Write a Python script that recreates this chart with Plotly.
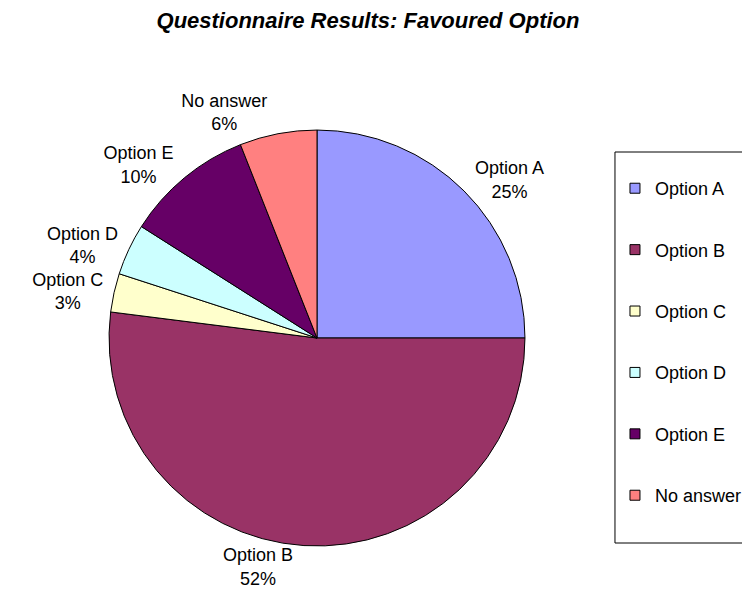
import plotly.graph_objects as go

labels = ["Option A", "Option B", "Option C", "Option D", "Option E", "No answer"]
values = [25, 52, 3, 4, 10, 6]
colors = ["#9999FF", "#993366", "#FFFFCC", "#CCFFFF", "#660066", "#FF8080"]

FONT = "Liberation Sans, Arial, sans-serif"

fig = go.Figure()
fig.add_trace(go.Pie(
    labels=labels, values=values, sort=False, direction="clockwise", rotation=0,
    marker=dict(colors=colors, line=dict(color="black", width=1)),
    textposition="outside", texttemplate="%{label}<br>%{percent:.0%}",
    textfont=dict(family=FONT, size=18, color="black"),
    domain=dict(x=[0.1347, 0.6893], y=[0.1018, 0.7963]),
    showlegend=False, hoverinfo="label+percent",
))

for i, (lab, col) in enumerate(zip(labels, colors)):
    fig.add_trace(go.Scatter(
        x=[None], y=[None], mode="markers", name=lab, legendgroup=f"g{i}",
        marker=dict(symbol="square", size=10, color=col, line=dict(color="black", width=1)),
    ))

fig.update_layout(
    width=750, height=599,
    margin=dict(l=0, r=0, t=0, b=0),
    paper_bgcolor="white", plot_bgcolor="white",
    font=dict(family=FONT, size=18, color="black"),
    title=dict(text="<b><i>Questionnaire Results: Favoured Option</i></b>",
               x=0.48, xanchor="center", y=0.98, yanchor="middle",
               font=dict(family=FONT, size=22, color="black")),
    xaxis=dict(visible=False), yaxis=dict(visible=False),
    legend=dict(x=0.8093, y=0.7295, xanchor="left", yanchor="top",
                borderwidth=0, bgcolor="rgba(0,0,0,0)",
                tracegroupgap=35, itemwidth=30,
                font=dict(family=FONT, size=18, color="black")),
    shapes=[dict(type="rect", xref="paper", yref="paper",
                 x0=0.8093, x1=1.02, y0=1 - 535 / 599, y1=1 - 144 / 599,
                 line=dict(color="black", width=1), fillcolor="rgba(0,0,0,0)",
                 layer="below")],
)

fig.write_html("out.html")
